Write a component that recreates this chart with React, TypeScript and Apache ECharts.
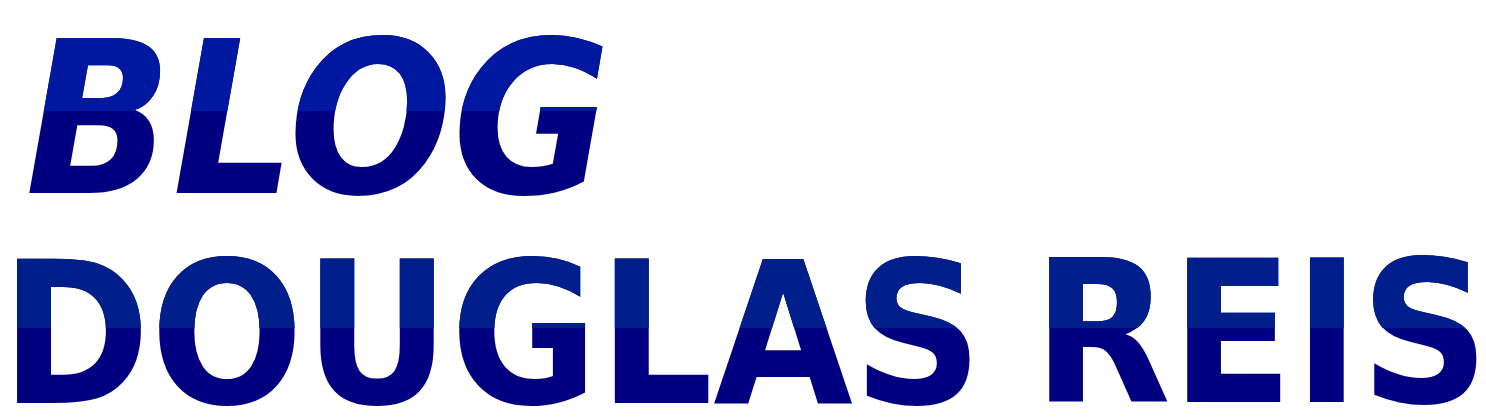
import React, { useEffect, useRef } from 'react';
import * as echarts from 'echarts';

// palavras do logo e a caixa que cada uma ocupa na imagem
const words = ['BLOG', 'DOUGLAS', 'REIS'];
const italic = [true, false, false];
const lefts = [29, 17, 1049];
const rights = [603, 970, 1477];
const capTops = [35, 256, 256];
const capBottoms = [192, 403, 403];
const splits = [111, 328, 328];
const topColors = ['#0017a0', '#001f8b', '#001f8b'];
const bottomColor = '#000080';
const family = "'DejaVu Sans'";

function measure(word: string, font: string) {
  const ctx = document.createElement('canvas').getContext('2d')!;
  ctx.font = font;
  ctx.textBaseline = 'middle';
  return ctx.measureText(word);
}

function layoutWord(i: number) {
  const word = words[i];
  const style = italic[i] ? 'italic bold' : 'bold';
  // tamanho da fonte a partir da altura das maiúsculas
  const probe = measure(word, `${style} 100px ${family}`);
  const capRatio = (probe.actualBoundingBoxAscent + probe.actualBoundingBoxDescent) / 100;
  const size = ((capBottoms[i] - capTops[i]) / capRatio) * 1.025;
  const font = `${style} ${size}px ${family}`;
  const m = measure(word, font);
  const inkWidth = m.actualBoundingBoxLeft + m.actualBoundingBoxRight;
  const scaleX = (rights[i] - lefts[i]) / inkWidth;
  const x = lefts[i] + m.actualBoundingBoxLeft * scaleX;
  // o "central" do svg fica um pouco abaixo do "middle" do canvas
  const y = capTops[i] + m.actualBoundingBoxAscent - size * 0.088;
  return { word, font, scaleX, x, y };
}

function Logo() {
  const chartRef = useRef<HTMLDivElement>(null);

  useEffect(() => {
    if (!chartRef.current) return undefined;

    const layouts = words.map((_, i) => layoutWord(i));

    const renderItem = (params: any) => {
      const i = params.dataIndex;
      const l = layouts[i];
      const textOf = (fill: string) => ({
        type: 'text',
        x: l.x,
        y: 0,
        scaleX: l.scaleX,
        style: {
          legacy: false,
          text: l.word,
          x: 0,
          y: l.y,
          font: l.font,
          align: 'left',
          verticalAlign: 'middle',
          fill,
        },
      });
      // metade de cima mais clara, recortada acima da linha de divisão
      const upper: any = textOf(topColors[i]);
      upper.clipPath = {
        type: 'rect',
        shape: { x: -5000, y: -1000, width: 10000, height: 1000 + splits[i] },
      };
      return {
        type: 'group',
        children: [textOf(bottomColor), upper],
      };
    };

    const option = {
      animation: false,
      backgroundColor: '#ffffff',
      series: [
        {
          type: 'custom',
          coordinateSystem: 'none',
          silent: true,
          data: words.map((_, i) => [i]),
          renderItem,
        },
      ],
    };

    const myChart = echarts.init(chartRef.current, null, { renderer: 'svg' });
    myChart.setOption(option as any);

    return () => {
      myChart.dispose();
    };
  }, []);

  return (
    <div
      ref={chartRef}
      style={{
        position: 'fixed',
        left: 0,
        top: 0,
        width: '1486px',
        height: '418px',
      }}
    />
  );
}

export default function App() {
  return <Logo />;
}
